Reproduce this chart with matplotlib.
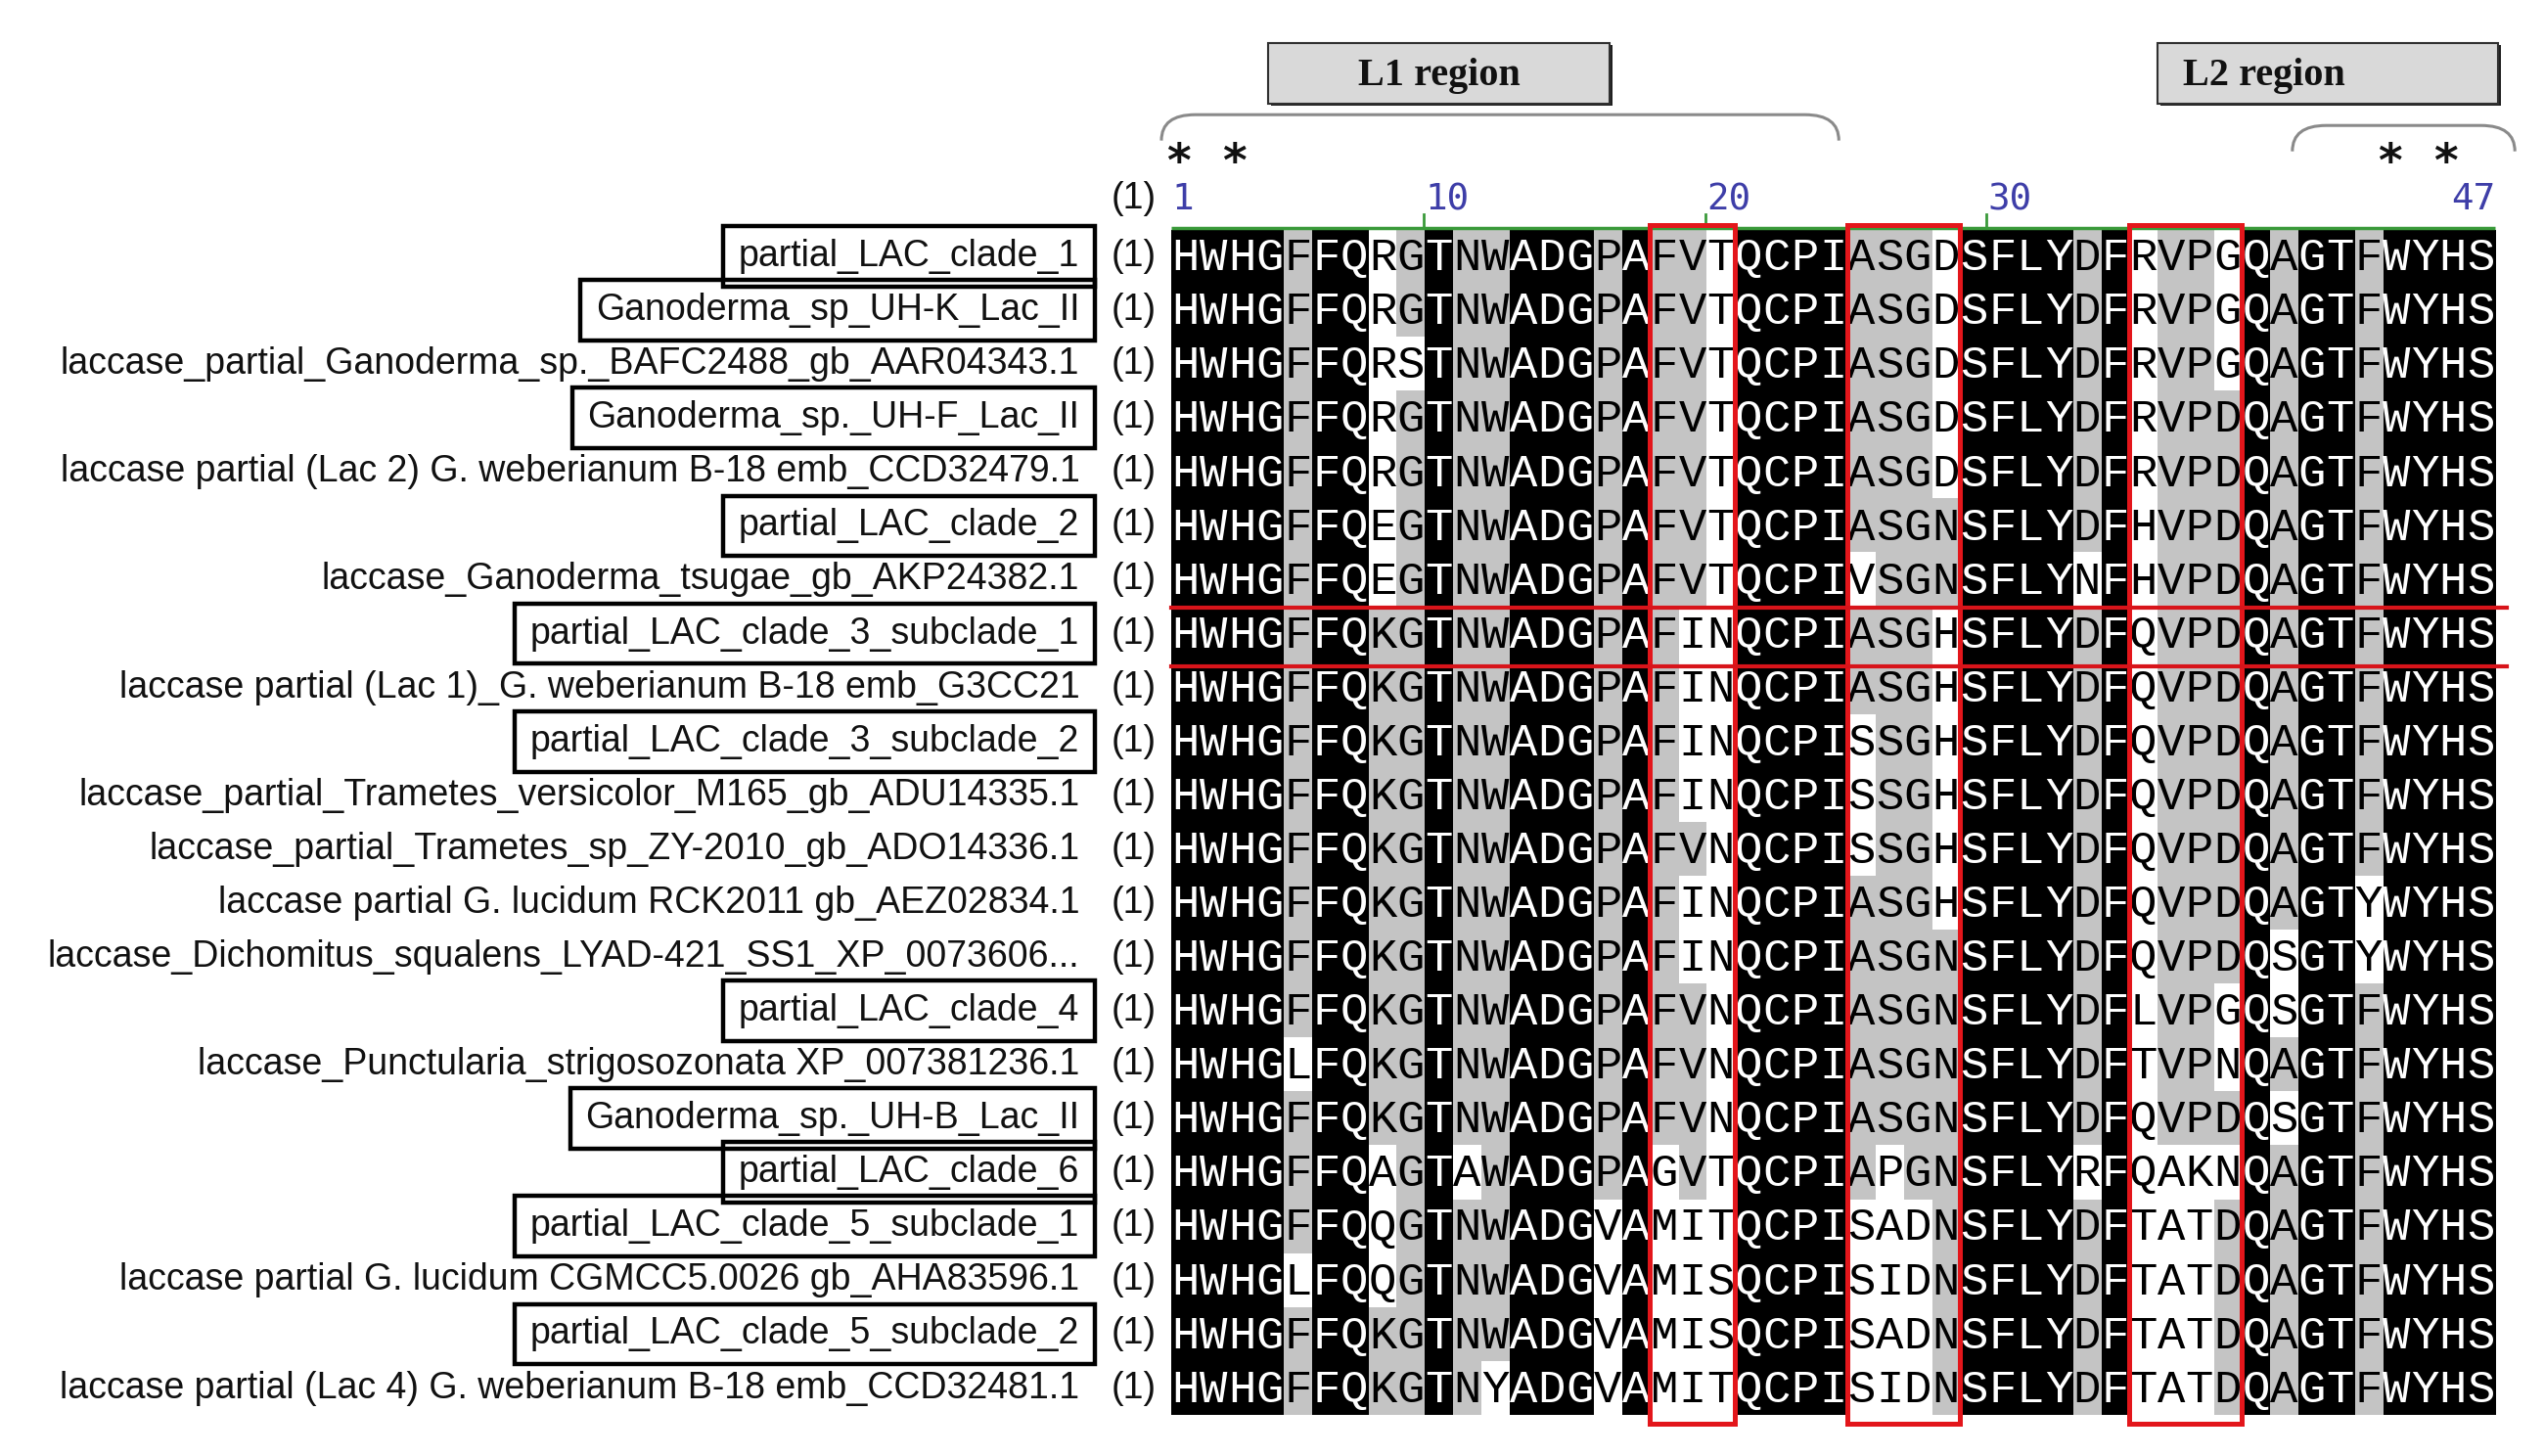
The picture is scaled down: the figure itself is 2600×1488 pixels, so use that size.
import matplotlib
matplotlib.use("Agg")
import numpy as np
import matplotlib.pyplot as plt
from matplotlib import font_manager
from matplotlib.colors import ListedColormap
from matplotlib.patches import Rectangle, PathPatch
from matplotlib.path import Path

# - DATA - #
names = [
    "partial_LAC_clade_1",
    "Ganoderma_sp_UH-K_Lac_II",
    "laccase_partial_Ganoderma_sp._BAFC2488_gb_AAR04343.1",
    "Ganoderma_sp._UH-F_Lac_II",
    "laccase partial (Lac 2) G. weberianum B-18 emb_CCD32479.1",
    "partial_LAC_clade_2",
    "laccase_Ganoderma_tsugae_gb_AKP24382.1",
    "partial_LAC_clade_3_subclade_1",
    "laccase partial (Lac 1)_G. weberianum B-18 emb_G3CC21",
    "partial_LAC_clade_3_subclade_2",
    "laccase_partial_Trametes_versicolor_M165_gb_ADU14335.1",
    "laccase_partial_Trametes_sp_ZY-2010_gb_ADO14336.1",
    "laccase partial G. lucidum RCK2011 gb_AEZ02834.1",
    "laccase_Dichomitus_squalens_LYAD-421_SS1_XP_0073606...",
    "partial_LAC_clade_4",
    "laccase_Punctularia_strigosozonata XP_007381236.1",
    "Ganoderma_sp._UH-B_Lac_II",
    "partial_LAC_clade_6",
    "partial_LAC_clade_5_subclade_1",
    "laccase partial G. lucidum CGMCC5.0026 gb_AHA83596.1",
    "partial_LAC_clade_5_subclade_2",
    "laccase partial (Lac 4) G. weberianum B-18 emb_CCD32481.1",
]
boxed = [1, 1, 0, 1, 0, 1, 0, 1, 0, 1, 0, 0, 0, 0, 1, 0, 1, 1, 1, 0, 1, 0]
seqs = [
    "HWHGFFQRGTNWADGPAFVTQCPIASGDSFLYDFRVPGQAGTFWYHS",
    "HWHGFFQRGTNWADGPAFVTQCPIASGDSFLYDFRVPGQAGTFWYHS",
    "HWHGFFQRSTNWADGPAFVTQCPIASGDSFLYDFRVPGQAGTFWYHS",
    "HWHGFFQRGTNWADGPAFVTQCPIASGDSFLYDFRVPDQAGTFWYHS",
    "HWHGFFQRGTNWADGPAFVTQCPIASGDSFLYDFRVPDQAGTFWYHS",
    "HWHGFFQEGTNWADGPAFVTQCPIASGNSFLYDFHVPDQAGTFWYHS",
    "HWHGFFQEGTNWADGPAFVTQCPIVSGNSFLYNFHVPDQAGTFWYHS",
    "HWHGFFQKGTNWADGPAFINQCPIASGHSFLYDFQVPDQAGTFWYHS",
    "HWHGFFQKGTNWADGPAFINQCPIASGHSFLYDFQVPDQAGTFWYHS",
    "HWHGFFQKGTNWADGPAFINQCPISSGHSFLYDFQVPDQAGTFWYHS",
    "HWHGFFQKGTNWADGPAFINQCPISSGHSFLYDFQVPDQAGTFWYHS",
    "HWHGFFQKGTNWADGPAFVNQCPISSGHSFLYDFQVPDQAGTFWYHS",
    "HWHGFFQKGTNWADGPAFINQCPIASGHSFLYDFQVPDQAGTYWYHS",
    "HWHGFFQKGTNWADGPAFINQCPIASGNSFLYDFQVPDQSGTYWYHS",
    "HWHGFFQKGTNWADGPAFVNQCPIASGNSFLYDFLVPGQSGTFWYHS",
    "HWHGLFQKGTNWADGPAFVNQCPIASGNSFLYDFTVPNQAGTFWYHS",
    "HWHGFFQKGTNWADGPAFVNQCPIASGNSFLYDFQVPDQSGTFWYHS",
    "HWHGFFQAGTAWADGPAGVTQCPIAPGNSFLYRFQAKNQAGTFWYHS",
    "HWHGFFQQGTNWADGVAMITQCPISADNSFLYDFTATDQAGTFWYHS",
    "HWHGLFQQGTNWADGVAMISQCPISIDNSFLYDFTATDQAGTFWYHS",
    "HWHGFFQKGTNWADGVAMISQCPISADNSFLYDFTATDQAGTFWYHS",
    "HWHGFFQKGTNYADGVAMITQCPISIDNSFLYDFTATDQAGTFWYHS",
]
tick_cols = [1, 10, 20, 30, 47]
star_cols = [1, 3, 44, 46]
red_box_cols = [(18, 20), (25, 28), (35, 38)]
marked_row = 8
region_names = ["L1 region", "L2 region"]

nrow, ncol = len(seqs), len(seqs[0])


def has_font(fam):
    try:
        font_manager.findfont(font_manager.FontProperties(family=fam),
                              fallback_to_default=False)
        return True
    except ValueError:
        return False


if has_font("Liberation Sans Narrow"):
    lab_font, lab_size = "Liberation Sans Narrow", 32
else:
    lab_font, lab_size = "Liberation Sans", 27
mono = "Liberation Mono"

# conservation shading: 2 = identical in all, 1 = majority residue, 0 = other
shade = np.zeros((nrow, ncol), dtype=int)
for j in range(ncol):
    col = [s[j] for s in seqs]
    vals, counts = np.unique(col, return_counts=True)
    if len(vals) == 1:
        shade[:, j] = 2
        continue
    k = counts.argmax()
    if counts[k] * 2 >= nrow and (counts == counts[k]).sum() == 1:
        for i, c in enumerate(col):
            if c == vals[k]:
                shade[i, j] = 1

fig = plt.figure(figsize=(26, 14.88), dpi=100)
fig.patch.set_facecolor("white")
ax = fig.add_axes([0.4604, 0.0282, 0.5204, 0.8142])
ax.set_xlim(0.5, ncol + 0.5)
ax.set_ylim(nrow + 0.5, 0.5)
ax.axis("off")

cmap = ListedColormap(["white", "#c4c4c4", "black"])
ax.imshow(shade, cmap=cmap, vmin=0, vmax=2, interpolation="nearest",
          aspect="auto", extent=(0.5, ncol + 0.5, nrow + 0.5, 0.5))

for i, s in enumerate(seqs):
    for j, ch in enumerate(s):
        ax.text(j + 1, i + 1.04, ch, ha="center", va="center", family=mono,
                fontsize=34, color="white" if shade[i, j] == 2 else "black")

# sequence names and (1)
label_texts = []
for i, nm in enumerate(names):
    t = ax.text(-2.75, i + 1, nm, ha="right", va="center", family=lab_font,
                fontsize=lab_size, color="#111111", clip_on=False)
    label_texts.append(t)
    ax.text(-0.82, i + 1, "(1)", ha="center", va="center", family=lab_font,
            fontsize=lab_size, color="#111111", clip_on=False)
ax.text(-0.82, -0.07, "(1)", ha="center", va="center", family=lab_font,
        fontsize=lab_size, color="#111111", clip_on=False)

# ruler
ax.plot([0.5, ncol + 0.5], [0.47, 0.47], color="#3a9a3a", lw=2.5,
        clip_on=False, solid_capstyle="butt")
for c in tick_cols:
    if c in (1, ncol):
        continue
    ax.plot([c - 0.55, c - 0.55], [0.47, 0.22], color="#3a9a3a", lw=2,
            clip_on=False)
for c in tick_cols:
    ha = "right" if c == ncol else "left"
    x = c + 0.5 if c == ncol else c - 0.5
    ax.text(x, -0.05, str(c), ha=ha, va="center", family="DejaVu Sans Mono",
            fontsize=27, color="#3e3ea8", clip_on=False)

# asterisks over conserved histidines
for c in star_cols:
    ax.text(c - 0.25, -0.72, "*", ha="center", va="center", family="DejaVu Sans",
            fontweight="bold", fontsize=34, color="#111111", clip_on=False)

# red frames
for c0, c1 in red_box_cols:
    ax.add_patch(Rectangle((c0 - 0.5, 0.42), c1 - c0 + 1, nrow + 0.25,
                           fill=False, edgecolor="#e3161b", lw=3.6,
                           clip_on=False, zorder=5))
for y in (marked_row - 0.48, marked_row + 0.6):
    ax.plot([0.5, ncol + 0.9], [y, y], color="#d8141a", lw=3.0,
            clip_on=False, zorder=5)

# braces
for x0, x1, yt, yb in [(0.15, 24.2, -1.63, -1.15), (40.3, 48.2, -1.43, -0.95)]:
    r = 1.2
    verts = [(x0, yb), (x0, yt), (x0 + r, yt), (x1 - r, yt), (x1, yt), (x1, yb)]
    codes = [Path.MOVETO, Path.CURVE3, Path.CURVE3, Path.LINETO,
             Path.CURVE3, Path.CURVE3]
    ax.add_patch(PathPatch(Path(verts, codes), fill=False, edgecolor="#8a8a8a",
                           lw=2.2, clip_on=False))

# region boxes
for nm, (x0, x1), tx, ha in zip(region_names, [(3.95, 16.05), (35.5, 47.6)],
                                [10.0, 36.4], ["center", "left"]):
    ax.add_patch(Rectangle((x0 + 0.1, -2.92), x1 - x0, 1.13, facecolor="#202020",
                           edgecolor="none", clip_on=False))
    ax.add_patch(Rectangle((x0, -2.96), x1 - x0, 1.12, facecolor="#d9d9d9",
                           edgecolor="#303030", lw=1.5, clip_on=False))
    ax.text(tx, -2.36, nm, ha=ha, va="center", family="Liberation Serif",
            fontweight="bold", fontsize=29, color="#111111", clip_on=False)

# frames round the new clades
fig.canvas.draw()
inv = ax.transData.inverted()
rend = fig.canvas.get_renderer()
for i, t in enumerate(label_texts):
    if not boxed[i]:
        continue
    bb = t.get_window_extent(renderer=rend)
    left = inv.transform((bb.x0, bb.y0))[0] - 0.55
    right = -2.2
    ax.add_patch(Rectangle((left, i + 1 - 0.56), right - left, 1.12, fill=False,
                           edgecolor="black", lw=3.2, clip_on=False))

fig.savefig("out.png", dpi=100, facecolor="white")
